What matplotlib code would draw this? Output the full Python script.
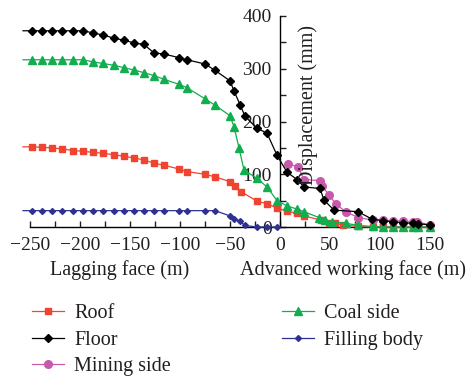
import matplotlib
matplotlib.use("Agg")
import matplotlib.pyplot as plt
from matplotlib.ticker import MultipleLocator

plt.rcParams["font.family"] = ["Liberation Serif", "DejaVu Serif"]
plt.rcParams["axes.unicode_minus"] = True

# data (distance from face in m, displacement in mm)
roof_x = [-257, -248, -238, -228, -218, -207, -197, -187, -177, -166, -156, -146, -136, -126,
          -116, -101, -93, -75, -65, -50, -45, -39, -23, -13, -3, 7, 17, 24, 41, 49, 55, 63,
          78, 93, 103, 113, 123, 133, 138, 150]
roof_y = [152, 152, 151, 150, 148, 145, 143.5, 141.6, 139.7, 137, 134, 131, 127, 121,
          117, 110, 105, 100, 95, 86, 78, 67, 49, 44, 36, 30, 26, 21, 13, 8, 7, 4,
          1, 0, 0, 0, 0, 0, 0, 0]

floor_x = [-257, -248, -238, -228, -218, -207, -197, -187, -177, -166, -156, -146, -136, -126,
           -116, -101, -93, -75, -65, -50, -46, -40, -35, -23, -13, -3, 7, 17, 24, 40, 44, 54,
           78, 92, 103, 113, 123, 133, 138, 150]
floor_y = [372, 372, 372, 372, 372, 372, 372, 368, 364, 358, 354, 349, 346, 330,
           328, 321, 317, 309, 297, 277, 258, 232, 210, 187, 178, 136, 104, 90, 76, 73, 51, 32,
           29, 15, 12, 10, 8, 7, 6, 4]

mining_x = [8, 18, 24, 40, 42, 49, 56, 66, 78, 93, 103, 113, 123, 133, 137, 150]
mining_y = [120, 114, 90, 88, 78, 61, 43, 29, 18, 13, 13, 12, 11, 10, 10, 4]

coal_x = [-257, -248, -238, -228, -218, -207, -197, -187, -177, -166, -156, -146, -136, -126,
          -116, -101, -93, -75, -65, -50, -46, -41, -36, -23, -13, -3, 7, 17, 24, 39, 45, 52,
          66, 78, 93, 103, 113, 123, 133, 138, 150]
coal_y = [317, 317, 317, 317, 317, 317, 317, 313, 310, 306.5, 302, 297.6, 292.5, 287,
          280, 270.5, 264, 243, 231, 211, 190, 150, 108, 92, 76, 50, 40, 34, 29, 18, 13, 10,
          7, 3, 1, 0, 0, 0, 0, 0, 0]

filling_x = [-257, -248, -238, -228, -218, -207, -197, -187, -177, -166, -156, -146, -136, -126,
             -116, -101, -93, -75, -65, -50, -46, -40, -35, -23, -13, -3]
filling_y = [31, 31, 31, 31, 31, 31, 31, 31, 31, 31, 31, 31, 31, 31,
             31, 31, 31, 31, 31, 21, 16, 11, 3, 0, 0, 0]

W, H = 474, 379
fig = plt.figure(figsize=(W / 100, H / 100), dpi=100)
ax = fig.add_axes([30 / W, 1 - 227 / H, 400 / W, 211 / H])

txt = "#231f20"
skip_first = slice(1, None)
ax.plot(roof_x, roof_y, color="#ee4430", marker="s", ms=5.0, lw=0.9,
        markevery=skip_first, clip_on=False, label="Roof", zorder=3)
ax.plot(floor_x, floor_y, color="black", marker="D", ms=4.0, lw=0.9,
        markevery=skip_first, clip_on=False, label="Floor", zorder=4)
ax.plot(mining_x, mining_y, color="#c858ad", marker="o", ms=5.5, lw=0.9,
        clip_on=False, label="Mining side", zorder=3)
ax.plot(coal_x, coal_y, color="#12ad4f", marker="^", ms=5.5, lw=0.9,
        markevery=skip_first, clip_on=False, label="Coal side", zorder=3)
ax.plot(filling_x, filling_y, color="#2e3192", marker="D", ms=3.0, lw=0.9,
        markevery=skip_first, clip_on=False, label="Filling body", zorder=3)

ax.set_xlim(-250, 150)
ax.set_ylim(0, 400)

# axes cross at the origin
ax.spines["left"].set_position(("data", 0))
ax.spines["right"].set_visible(False)
ax.spines["top"].set_visible(False)
for s in ["left", "bottom"]:
    ax.spines[s].set_linewidth(1.0)

ax.xaxis.set_major_locator(MultipleLocator(50))
ax.xaxis.set_minor_locator(MultipleLocator(25))
ax.yaxis.set_major_locator(MultipleLocator(100))
ax.yaxis.set_minor_locator(MultipleLocator(50))
ax.tick_params(axis="both", which="both", direction="in", length=4.5, width=1.0,
               labelsize=14, colors=txt)
ax.tick_params(axis="x", which="major", pad=7)
ax.tick_params(axis="y", which="major", pad=6)

fig.text(308 / W, 1 - 105 / H, "Displacement (mm)", rotation=90,
         ha="center", va="center", fontsize=14.5, color=txt, zorder=0)

fig.text(120 / W, 1 - 270 / H, "Lagging face (m)", ha="center", va="center",
         fontsize=14.5, color=txt)
fig.text(353 / W, 1 - 270 / H, "Advanced working face (m)", ha="center", va="center",
         fontsize=14.5, color=txt)

fig.legend(loc="upper left", bbox_to_anchor=(14 / W, 1 - 286 / H), ncol=2,
           frameon=False, fontsize=14.5, handlelength=1.6, columnspacing=5.5,
           labelspacing=0.37, handletextpad=0.5, labelcolor=txt)

fig.savefig("out.png", dpi=100)
